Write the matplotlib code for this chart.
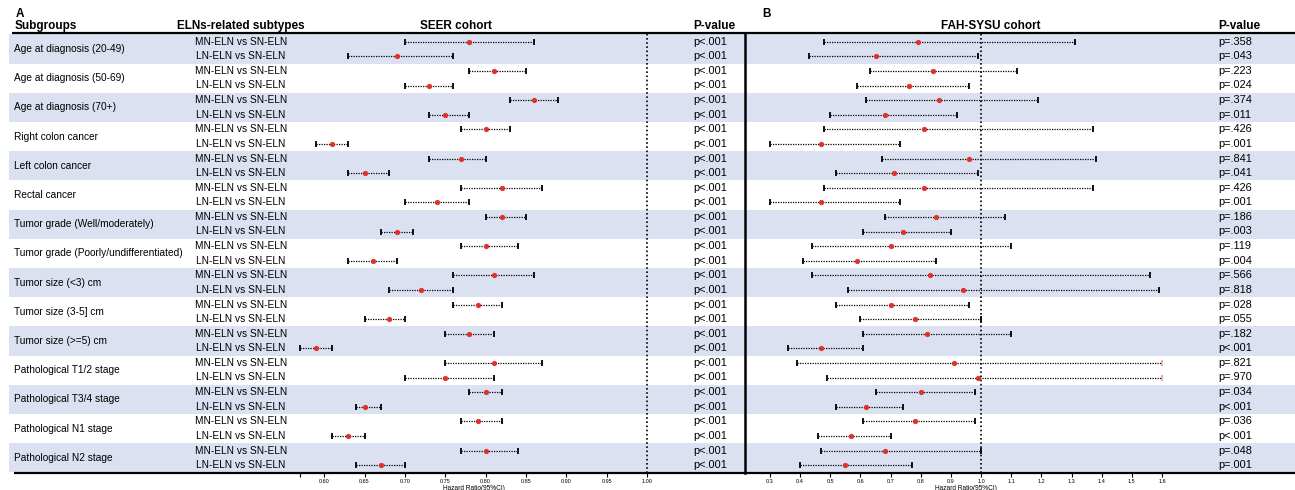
import matplotlib
matplotlib.use("Agg")
import matplotlib.pyplot as plt
import numpy as np

plt.rcParams['font.family'] = ['Liberation Sans', 'DejaVu Sans']

# 데이터
subgroups = ['Age at diagnosis (20-49)', 'Age at diagnosis (50-69)', 'Age at diagnosis (70+)',
             'Right colon cancer', 'Left colon cancer', 'Rectal cancer',
             'Tumor grade (Well/moderately)', 'Tumor grade (Poorly/undifferentiated)',
             'Tumor size (<3) cm', 'Tumor size (3-5] cm', 'Tumor size (>=5) cm',
             'Pathological T1/2 stage', 'Pathological T3/4 stage',
             'Pathological N1 stage', 'Pathological N2 stage']
subtypes = ['MN-ELN vs SN-ELN', 'LN-ELN vs SN-ELN'] * len(subgroups)

seer_hr = [0.78, 0.69, 0.81, 0.73, 0.86, 0.75, 0.80, 0.61, 0.77, 0.65, 0.82, 0.74, 0.82, 0.69, 0.80,
           0.66, 0.81, 0.72, 0.79, 0.68, 0.78, 0.59, 0.81, 0.75, 0.80, 0.65, 0.79, 0.63, 0.80, 0.67]
seer_lo = [0.70, 0.63, 0.78, 0.70, 0.83, 0.73, 0.77, 0.59, 0.73, 0.63, 0.77, 0.70, 0.80, 0.67, 0.77,
           0.63, 0.76, 0.68, 0.76, 0.65, 0.75, 0.57, 0.75, 0.70, 0.78, 0.64, 0.77, 0.61, 0.77, 0.64]
seer_hi = [0.86, 0.76, 0.85, 0.76, 0.89, 0.78, 0.83, 0.63, 0.80, 0.68, 0.87, 0.78, 0.85, 0.71, 0.84,
           0.69, 0.86, 0.76, 0.82, 0.70, 0.81, 0.61, 0.87, 0.81, 0.82, 0.67, 0.82, 0.65, 0.84, 0.70]
seer_p = ['p<.001'] * 30

fah_hr = [0.79, 0.65, 0.84, 0.76, 0.86, 0.68, 0.81, 0.47, 0.96, 0.71, 0.81, 0.47, 0.85, 0.74, 0.70,
          0.59, 0.83, 0.94, 0.70, 0.78, 0.82, 0.47, 0.91, 0.99, 0.80, 0.62, 0.78, 0.57, 0.68, 0.55]
fah_lo = [0.48, 0.43, 0.63, 0.59, 0.62, 0.50, 0.48, 0.30, 0.67, 0.52, 0.48, 0.30, 0.68, 0.61, 0.44,
          0.41, 0.44, 0.56, 0.52, 0.60, 0.61, 0.36, 0.39, 0.49, 0.65, 0.52, 0.61, 0.46, 0.47, 0.40]
fah_hi = [1.31, 0.99, 1.12, 0.96, 1.19, 0.92, 1.37, 0.73, 1.38, 0.99, 1.37, 0.73, 1.08, 0.90, 1.10,
          0.85, 1.56, 1.59, 0.96, 1.00, 1.10, 0.61, 1.60, 1.60, 0.98, 0.74, 0.98, 0.70, 1.00, 0.77]
fah_p = ['p=.358', 'p=.043', 'p=.223', 'p=.024', 'p=.374', 'p=.011', 'p=.426', 'p=.001',
         'p=.841', 'p=.041', 'p=.426', 'p=.001', 'p=.186', 'p=.003', 'p=.119', 'p=.004',
         'p=.566', 'p=.818', 'p=.028', 'p=.055', 'p=.182', 'p<.001', 'p=.821', 'p=.970',
         'p=.034', 'p<.001', 'p=.036', 'p<.001', 'p=.048', 'p=.001']

seer_ticks = [0.60, 0.65, 0.70, 0.75, 0.80, 0.85, 0.90, 0.95, 1.00]
fah_ticks = [0.3, 0.4, 0.5, 0.6, 0.7, 0.8, 0.9, 1.0, 1.1, 1.2, 1.3, 1.4, 1.5, 1.6]

# 픽셀 기준 배치
W, H = 1295, 490
y0, dy = 41.7, 14.6          # 첫 행 위치, 행 간격
top_px, bot_px = 33, 472.7   # 헤더 선, 아래 축 선

def row(py):
    return (py - y0) / dy

band_c = '#dce1f1'
red = '#e0302a'

fig = plt.figure(figsize=(W / 100, H / 100), dpi=100)
bg = fig.add_axes([0, 0, 1, 1])
bg.set_xlim(0, W)
bg.set_ylim(row(H), row(0))
bg.axis('off')

n = len(subtypes)
rows = np.arange(n)

# 배경 띠
for g in range(0, len(subgroups), 2):
    bg.axhspan(2 * g - 0.5, 2 * g + 1.5, xmin=9 / W, xmax=1, color=band_c, lw=0, zorder=0)

# 헤더
bg.text(16, row(14), 'A', fontsize=8.5, fontweight='bold', va='center')
bg.text(762, row(14), 'B', fontsize=8.5, fontweight='bold', va='center')
hy = row(25.7)
bg.text(15, hy, 'Subgroups', fontsize=8.5, fontweight='bold', va='center')
bg.text(240.5, hy, 'ELNs-related subtypes', fontsize=8.5, fontweight='bold', va='center', ha='center')
bg.text(456, hy, 'SEER cohort', fontsize=8.5, fontweight='bold', va='center', ha='center')
bg.text(693, hy, 'P-value', fontsize=8.5, fontweight='bold', va='center')
bg.text(991, hy, 'FAH-SYSU cohort', fontsize=8.5, fontweight='bold', va='center', ha='center')
bg.text(1218, hy, 'P-value', fontsize=8.5, fontweight='bold', va='center')

bg.plot([12, W], [row(top_px)] * 2, color='black', lw=1.6, solid_capstyle='butt')
bg.plot([14, W], [row(bot_px)] * 2, color='black', lw=1.6, solid_capstyle='butt')
bg.plot([745, 745], [row(top_px), row(bot_px)], color='black', lw=1.8)

# 표 텍스트
for g, name in enumerate(subgroups):
    bg.text(14, 2 * g + 0.5, name, fontsize=7.3, va='center')
for i in rows:
    bg.text(241, i, subtypes[i], fontsize=7.3, va='center', ha='center')
    bg.text(693, i, seer_p[i], fontsize=7.9, va='center')
    bg.text(1218, i, fah_p[i], fontsize=7.9, va='center')


def forest(left_px, right_px, xlim, hr, lo, hi, ticks, fmt):
    ax = fig.add_axes([left_px / W, 1 - bot_px / H, (right_px - left_px) / W, (bot_px - top_px) / H])
    ax.set_xlim(*xlim)
    ax.set_ylim(row(bot_px), row(top_px))
    ax.patch.set_alpha(0)
    for s in ax.spines.values():
        s.set_visible(False)
    ax.set_yticks([])
    ax.axvline(1.0, color='black', ls=(0, (1, 1.5)), lw=1.2, clip_on=False, zorder=1)
    for i in range(len(hr)):
        ax.plot([lo[i], hi[i]], [i, i], color='black', ls=(0, (1, 1)), lw=0.9, zorder=2, clip_on=False)
        ax.plot(lo[i], i, marker='|', color='black', ms=4.5, mew=1.3, zorder=3, clip_on=False)
        cap_c = '#f2a0a0' if hi[i] >= xlim[1] else 'black'
        ax.plot(hi[i], i, marker='|', color=cap_c, ms=4.5, mew=1.3, zorder=3, clip_on=False)
        ax.plot(hr[i], i, 'o', color=red, ms=3.3, mec=red, mew=0.5, zorder=4, clip_on=False)
    ax.set_xticks(ticks)
    ax.set_xticklabels([fmt % t if t in ticks[1:] or fmt == '%.1f' else '' for t in ticks])
    ax.tick_params(axis='x', length=3, width=0.8, pad=1.5, labelsize=4)
    ax.set_xlabel('Hazard Ratio(95%CI)', fontsize=4.7, labelpad=0.5)
    return ax


forest(300, 647, (0.57, 1.0), seer_hr, seer_lo, seer_hi, [0.57] + seer_ticks, '%.2f')
forest(770, 1162, (0.3, 1.6), fah_hr, fah_lo, fah_hi, fah_ticks, '%.1f')

fig.savefig('out.png', dpi=100)
